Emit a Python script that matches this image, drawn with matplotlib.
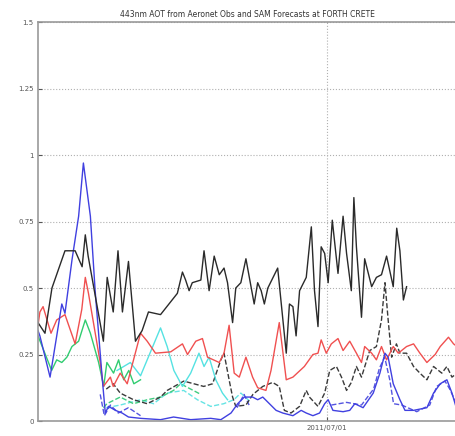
import numpy as np
import matplotlib
matplotlib.use('Agg')
import matplotlib.pyplot as plt
import matplotlib.dates as mdates

nan = np.nan
start = np.datetime64('2011-04-01')
end = np.datetime64('2011-08-11')

# Aeronet observations (black solid), day offsets from start
obs_days = [0, 2.2, 4.4, 8.5, 11.7, 13.9, 14.9, 15.8, 20.6, 21.8, 23.7, 25.2, 26.6, 28.5, 30.7,
            32.8, 34.8, 38.6, 43.9, 45.5, 46.5, 47.6, 48.6, 51.3, 52.3, 53.9, 55.5, 57.1, 58.6,
            59.7, 61.3, 62.3, 63.9, 65.5, 68.1, 69.2, 70.3, 71.3, 72.4, 75.5, 78.2, 79.2, 80.3,
            81.3, 82.4, 84.5, 86.1, 87.1, 88.2, 89.2, 90.3, 91.4, 92.7, 94.5, 96.1, 97.2, 98.7,
            99.5, 100.3, 101.9, 102.9, 105.1, 106.6, 108.2, 109.8, 111.9, 113, 114, 115.1, 116.1]
obs_aot = [0.37, 0.33, 0.50, 0.64, 0.64, 0.58, 0.70, 0.62, 0.30, 0.54, 0.41, 0.64, 0.41, 0.60, 0.30,
           0.34, 0.41, 0.40, 0.48, 0.56, 0.53, 0.49, 0.52, 0.53, 0.64, 0.49, 0.62, 0.55, 0.575,
           0.52, 0.37, 0.50, 0.52, 0.61, 0.44, 0.52, 0.49, 0.44, 0.50, 0.575, 0.255, 0.44, 0.43,
           0.32, 0.49, 0.54, 0.73, 0.49, 0.355, 0.655, 0.63, 0.52, 0.755, 0.555, 0.77, 0.63, 0.49,
           0.84, 0.655, 0.39, 0.61, 0.505, 0.54, 0.55, 0.62, 0.505, 0.725, 0.64, 0.455, 0.505]

# SAM forecast, red solid
red_days = [0, 0.6, 1.6, 4.1, 5.9, 8.5, 11.7, 13.8, 14.9, 15.9, 19.6, 20.6, 22.8, 23.7, 25.9,
            28.1, 30.1, 32.3, 34.4, 37, 41.8, 45.5, 47.1, 49.7, 51.8, 53.4, 57.1, 58.6, 60.2,
            61.8, 63.4, 65.5, 67.6, 69.2, 71.8, 73.4, 76, 78.2, 80.3, 83.9, 86.6, 88.2, 89.2,
            90.8, 92.4, 94.5, 96.1, 98.2, 100.3, 101.9, 102.9, 105.1, 106.6, 108.2, 109.8, 111.9,
            113.5, 116.1, 118.3, 120.3, 122.5, 125.1, 126.7, 129.3, 130.9, 132]
red_aot = [0.36, 0.41, 0.43, 0.33, 0.38, 0.40, 0.29, 0.42, 0.54, 0.48, 0.22, 0.13, 0.165, 0.13, 0.18,
           0.14, 0.23, 0.33, 0.30, 0.255, 0.26, 0.29, 0.25, 0.30, 0.31, 0.24, 0.22, 0.255, 0.36,
           0.18, 0.165, 0.24, 0.165, 0.125, 0.115, 0.19, 0.37, 0.155, 0.165, 0.205, 0.25, 0.255, 0.305,
           0.255, 0.29, 0.31, 0.265, 0.30, 0.255, 0.22, 0.28, 0.255, 0.23, 0.28, 0.23, 0.28,
           0.255, 0.28, 0.29, 0.255, 0.22, 0.25, 0.28, 0.315, 0.29, 0.28]

# blue solid
blue_days = [0, 0.6, 3.8, 5.9, 7.5, 8.5, 10.7, 12.8, 14.3, 16.5, 18, 20.2, 21.2, 22.2, 24.4, 26.5,
             28.5, 32.3, 38.6, 42.7, 48.1, 54.4, 57.6, 60.8, 62.9, 65, 67.6, 69.2, 70.8, 72.9, 75,
             77.1, 80.3, 82.9, 84.5, 86.6, 88.7, 90.3, 91.4, 92.9, 96.1, 98.2, 99.8, 102.4, 105.6,
             107.7, 109.3, 110.3, 111.9, 114, 115.6, 118.3, 122.5, 124.6, 126.7, 128.8, 130.4, 132]
blue_aot = [0.34, 0.32, 0.165, 0.32, 0.44, 0.405, 0.605, 0.77, 0.97, 0.77, 0.49, 0.165, 0.03, 0.055,
            0.04, 0.03, 0.015, 0.01, 0.005, 0.015, 0.005, 0.01, 0.005, 0.03, 0.065, 0.09, 0.09, 0.08,
            0.09, 0.065, 0.04, 0.03, 0.02, 0.04, 0.03, 0.02, 0.03, 0.065, 0.08, 0.04, 0.035, 0.04,
            0.065, 0.05, 0.105, 0.18, 0.255, 0.24, 0.14, 0.08, 0.04, 0.04, 0.05, 0.105, 0.14, 0.155,
            0.105, 0.04]

# green solid
green_days = [0, 4.3, 5.9, 7.5, 9.1, 10.7, 12.8, 14.9, 16.5, 19.1, 20.7, 21.7, 23.8, 25.4, 27,
              28.6, 30.2, 32.3]
green_aot = [0.32, 0.19, 0.23, 0.22, 0.24, 0.28, 0.30, 0.38, 0.33, 0.22, 0.13, 0.22, 0.18, 0.23,
             0.155, 0.19, 0.14, 0.155]

# cyan solid
cyan_days = [24.9, 29.1, 32.3, 34.4, 36.5, 38.6, 40.7, 42.8, 45.5, 48.1, 50.7, 52.3, 53.9, 56,
             58.1, 59.7]
cyan_aot = [0.19, 0.22, 0.17, 0.23, 0.29, 0.35, 0.28, 0.19, 0.13, 0.18, 0.255, 0.205, 0.24, 0.155,
            0.105, 0.08]

# dashed series
kdash_days = [21.5, 23.7, 25.9, 30.1, 34.4, 38.6, 40.7, 45.9, 49.1, 52.2, 55, 57.6, 58.6, 60.2,
              61.3, 62.3, 65.5, 67.7, 70.8, 73.9, 76, 77.6, 79.7, 82.4, 84.5, 85.5, 88.2, 90.3,
              91.9, 94, 95.6, 97.2, 98.7, 100.3, 101.9, 104.5, 106.6, 108.2, 109.3, 110.3, 111.4,
              112.9, 114, 116.1, 118.3, 120.3, 122.5, 124.6, 127.2, 128.8, 130.4, 132]
kdash_aot = [0.12, 0.14, 0.105, 0.08, 0.065, 0.09, 0.115, 0.15, 0.14, 0.13, 0.14, 0.23, 0.255, 0.155,
             0.09, 0.055, 0.06, 0.10, 0.13, 0.145, 0.13, 0.04, 0.03, 0.055, 0.115, 0.09, 0.055, 0.105,
             0.19, 0.205, 0.165, 0.115, 0.145, 0.205, 0.165, 0.265, 0.28, 0.38, 0.52, 0.38, 0.24,
             0.29, 0.255, 0.255, 0.205, 0.18, 0.155, 0.205, 0.18, 0.205, 0.165, 0.18]

bdash_days = [19.6, 20.9, 22.8, 25.3, 28.5, 32.3, nan, 62.7, 64.9, 66.5, nan, 92.4, 97.2, 101.9,
              105.7, 107.6, 109.2, 110.8, 112, 114.6, 119.3, 123.4, 125.6, 128.2, 129.7, 132]
bdash_aot = [0.10, 0.02, 0.06, 0.03, 0.05, 0.02, nan, 0.05, 0.10, 0.06, nan, 0.06, 0.07, 0.06,
             0.12, 0.20, 0.24, 0.155, 0.065, 0.06, 0.035, 0.06, 0.13, 0.15, 0.12, 0.06]

gdash_days = [20.6, 21.7, 25.9, 30.1, 34.4, 38.6, 42.7, 44.9, 48.1, 51.3]
gdash_aot = [0.05, 0.065, 0.09, 0.065, 0.08, 0.09, 0.115, 0.14, 0.12, 0.10]

cdash_days = [21.5, 25.9, 32.3, 36.4, 40.7, 45.9, 50.2, 54.4, 58.5, 61.7, 63.9, 67.1]
cdash_aot = [0.05, 0.06, 0.08, 0.065, 0.105, 0.115, 0.08, 0.055, 0.065, 0.08, 0.105, 0.07]


def to_dates(days):
    d = np.array(days, dtype=float)
    out = np.full(d.shape, np.datetime64('NaT'), dtype='datetime64[m]')
    ok = ~np.isnan(d)
    out[ok] = start + (d[ok] * 1440).astype('timedelta64[m]')
    return out


fig = plt.figure(figsize=(4.55, 4.36), dpi=100)
# axes run slightly past the right edge of the figure, like the cropped original
ax = fig.add_axes([0.0835, 0.0344, 0.921, 0.915])

series = [
    (cdash_days, cdash_aot, '#66e4e4', '--'),
    (gdash_days, gdash_aot, '#40cc80', '--'),
    (bdash_days, bdash_aot, '#5555e0', '--'),
    (kdash_days, kdash_aot, '#3a3a3a', '--'),
    (cyan_days, cyan_aot, '#55e2e2', '-'),
    (green_days, green_aot, '#30cc70', '-'),
    (red_days, red_aot, '#f05050', '-'),
    (blue_days, blue_aot, '#4040e0', '-'),
    (obs_days, obs_aot, '#2a2a2a', '-'),
]
for days, vals, col, ls in series:
    ax.plot(to_dates(days), vals, color=col, linestyle=ls, linewidth=1.0)

ax.set_xlim(start, end)
ax.set_ylim(0, 1.5)
ax.set_yticks([0, 0.25, 0.5, 0.75, 1, 1.25, 1.5])
ax.set_yticklabels(['0', '0.25', '0.5', '0.75', '1', '1.25', '1.5'])
ax.set_xticks([np.datetime64('2011-07-01')])
ax.xaxis.set_major_formatter(mdates.DateFormatter('%Y/%m/%d'))
ax.grid(True, linestyle=':', color='#b0b0b0', linewidth=0.8)
ax.tick_params(direction='in', labelsize=5, colors='#555555', length=3, pad=3)
for s in ax.spines.values():
    s.set_color('#999999')
    s.set_linewidth(1.2)

ax.set_title('443nm AOT from Aeronet Obs and SAM Forecasts at FORTH CRETE', fontsize=5.5,
             color='#333333', pad=4)

fig.savefig('out.png', dpi=100)
